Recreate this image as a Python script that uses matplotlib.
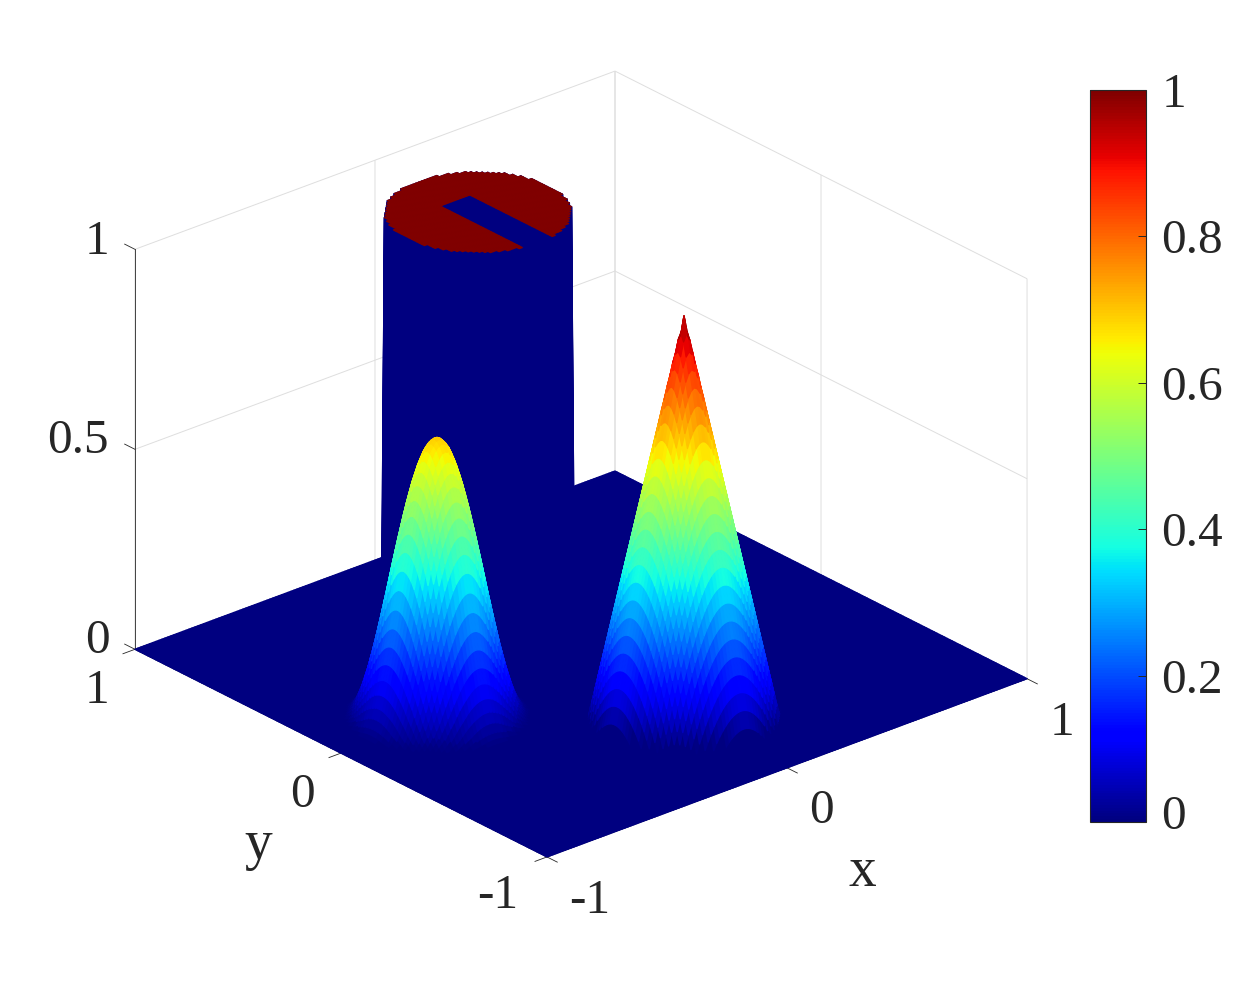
import numpy as np
import matplotlib
matplotlib.use("Agg")
import matplotlib.pyplot as plt
from matplotlib.cm import ScalarMappable
from matplotlib.colors import Normalize
from matplotlib.transforms import ScaledTranslation
from mpl_toolkits.mplot3d import proj3d

plt.rcParams['font.family'] = ['Liberation Serif', 'DejaVu Serif']

# ---- data ----
grid_cells = 160
x_limits = [-1, 1]
y_limits = [-1, 1]
z_limits = [0, 1]
x_ticks = [-1, 0, 1]
y_ticks = [-1, 0, 1]
z_ticks = [0, 0.5, 1]
x_tick_labels = ['-1', '0', '1']
y_tick_labels = ['-1', '0', '1']
z_tick_labels = ['0', '0.5', '1']
cbar_ticks = [0, 0.2, 0.4, 0.6, 0.8, 1]
cbar_tick_labels = ['0', '0.2', '0.4', '0.6', '0.8', '1']

cylinder_center = [0.0, 0.5]
cylinder_radius = 0.3
cylinder_height = 1.0
slot_half_width = 0.0625
slot_y_top = 0.61

cone_center = [0.0, -0.5]
cone_radii = [0.0, 0.3]
cone_heights = [1.0, 0.0]

hump_center = [-0.6, 0.0]
hump_radii = [0, .02, .04, .06, .08, .10, .12, .14, .16, .18, .20, .22, .24, .26, .28, .30]
hump_heights = [.70, .692, .670, .633, .584, .525, .458, .387, .313, .242, .175, .116, .067, .030, .008, 0]

# ---- build the surface ----
xs = np.linspace(x_limits[0], x_limits[1], grid_cells + 1)
ys = np.linspace(y_limits[0], y_limits[1], grid_cells + 1)
X, Y = np.meshgrid(xs, ys)
Z = np.zeros_like(X)

r_cyl = np.hypot(X - cylinder_center[0], Y - cylinder_center[1])
in_slot = (np.abs(X - cylinder_center[0]) < slot_half_width) & (Y < slot_y_top)
Z[(r_cyl <= cylinder_radius) & ~in_slot] = cylinder_height

r_cone = np.hypot(X - cone_center[0], Y - cone_center[1])
Z = np.maximum(Z, np.interp(r_cone, cone_radii, cone_heights, right=0))
r_hump = np.hypot(X - hump_center[0], Y - hump_center[1])
Z = np.maximum(Z, np.interp(r_hump, hump_radii, hump_heights, right=0))

cmap = plt.get_cmap('jet', 256)
norm = Normalize(0, 1)
cell_values = Z[:-1, :-1].copy()
# the cylinder's walls show in the darkest colour
corners = np.stack([Z[:-1, :-1], Z[1:, :-1], Z[:-1, 1:], Z[1:, 1:]])
wall = (corners.max(axis=0) >= cylinder_height) & (corners.min(axis=0) < cylinder_height) & (r_cyl[:-1, :-1] < 0.4)
cell_values[wall] = 0.0
facecols = cmap(norm(cell_values))

W, H = 1252, 984
TEXT = '#262626'
fig = plt.figure(figsize=(W / 100, H / 100), dpi=100)
ax = fig.add_axes([0.05, 0.05, 0.8, 0.9], projection='3d', proj_type='ortho')
ax.set_xlim(*x_limits, view_margin=0)
ax.set_ylim(*y_limits, view_margin=0)
ax.set_zlim(*z_limits, view_margin=0)
ax.view_init(elev=25.63, azim=-130.64)
ax.set_box_aspect((632.6, 632.6, 443.6))
ax.patch.set_alpha(0)

surf = ax.plot_surface(X, Y, Z, facecolors=facecols, rstride=1, cstride=1,
                       shade=False, linewidth=1.0, antialiased=True)
surf.set_edgecolor(surf._facecolor3d)

ax.set_xticks(x_ticks)
ax.set_yticks(y_ticks)
ax.set_zticks(z_ticks)
ax.set_xticklabels([''] * 3)
ax.set_yticklabels([''] * 3)
ax.set_zticklabels([''] * 3)
for axis in (ax.xaxis, ax.yaxis, ax.zaxis):
    axis.set_pane_color((1, 1, 1, 0))
    axis.pane.set_edgecolor('none')
    axis.line.set_color(TEXT)
    axis.line.set_linewidth(0.6)
    axis._axinfo['grid'].update(color='#dedede', linewidth=0.7)
    axis._axinfo['tick'].update(inward_factor=0.0, outward_factor=0.0)

# outward tick marks
tick_len = 0.05
for t in x_ticks:
    ax.plot([t, t], [-1, -1 - tick_len], [0, 0], color=TEXT, lw=0.6)
for t in y_ticks:
    ax.plot([-1, -1 - tick_len], [t, t], [0, 0], color=TEXT, lw=0.6)
for t in z_ticks:
    ax.plot([-1, -1], [1, 1 + tick_len], [t, t], color=TEXT, lw=0.6)


def project(x, y, z):
    px, py, _ = proj3d.proj_transform(x, y, z, ax.get_proj())
    return ax.transData.transform((px, py))


# place the box so that its floor corners fall where the reference has them
target_right = np.array([1027.0, H - 680.0])
target_left = np.array([135.0, H - 648.0])
for _ in range(4):
    fig.canvas.draw()
    b, c = project(1, -1, 0), project(-1, 1, 0)
    scale = (np.linalg.norm(target_right - target_left)) / np.linalg.norm(b - c)
    cur_mid = (b + c) / 2
    tgt_mid = (target_right + target_left) / 2
    pos = ax.get_position(original=True)
    w, h = pos.width * scale, pos.height * scale
    cx = (pos.x0 + pos.width / 2) + (tgt_mid[0] - cur_mid[0] - (cur_mid[0] - (pos.x0 + pos.width / 2) * W) * (scale - 1)) / W
    cy = (pos.y0 + pos.height / 2) + (tgt_mid[1] - cur_mid[1] - (cur_mid[1] - (pos.y0 + pos.height / 2) * H) * (scale - 1)) / H
    ax.set_position([cx - w / 2, cy - h / 2, w, h])
fig.canvas.draw()

TICK_SIZE = 35.5


def put_label(txt, x, y, z, dx, dy, size=TICK_SIZE):
    xy = proj3d.proj_transform(x, y, z, ax.get_proj())[:2]
    ax.annotate(txt, xy=xy, xytext=(dx, -dy), textcoords='offset pixels',
                ha='center', va='center', fontsize=size, color=TEXT,
                annotation_clip=False)


x_offsets = [(43, 44), (34, 43), (35, 44)]
y_offsets = [(-49, 39), (-39, 42), (-38, 42)]
z_offsets = [(-38, -8), (-57, -8), (-38, -7)]
for t, lab, off in zip(x_ticks, x_tick_labels, x_offsets):
    put_label(lab, t, -1, 0, *off)
for t, lab, off in zip(y_ticks, y_tick_labels, y_offsets):
    put_label(lab, -1, t, 0, *off)
for t, lab, off in zip(z_ticks, z_tick_labels, z_offsets):
    put_label(lab, -1, 1, t, *off)
fig.text(862 / W, 1 - 872 / H, 'x', ha='center', va='center', fontsize=40, color=TEXT)
fig.text(258 / W, 1 - 845 / H, 'y', ha='center', va='center', fontsize=40, color=TEXT)

# colorbar
cax = fig.add_axes([1090 / W, 1 - 822 / H, 56 / W, 732 / H])
cb = fig.colorbar(ScalarMappable(norm=norm, cmap=cmap), cax=cax, ticks=cbar_ticks)
cb.ax.set_yticklabels(cbar_tick_labels, fontsize=TICK_SIZE, color=TEXT)
cb.ax.tick_params(direction='in', length=6, width=0.7, color=TEXT, pad=11, right=True)
cb.outline.set_edgecolor(TEXT)
cb.outline.set_linewidth(0.8)
labs = cb.ax.get_yticklabels()
labs[0].set_transform(labs[0].get_transform() + ScaledTranslation(0, 10 / 100, fig.dpi_scale_trans))

fig.savefig('out.png', dpi=100)
